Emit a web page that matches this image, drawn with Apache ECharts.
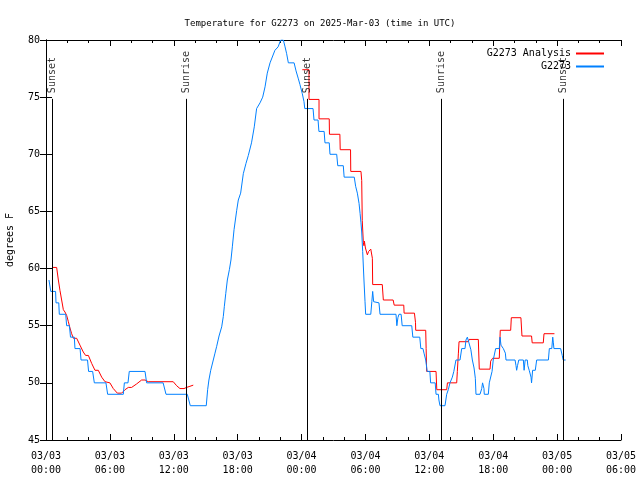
<!DOCTYPE html>
<html><head><meta charset="utf-8">
<script src="https://cdn.jsdelivr.net/npm/echarts@6/dist/echarts.min.js"></script>
<style>html,body{margin:0;padding:0;background:#fff}#c{width:640px;height:480px}</style>
</head><body><div id="c"></div>
<script>
const titleText = 'Temperature for G2273 on 2025-Mar-03 (time in UTC)';
const yAxisName = 'degrees F';
const xTickLabels = ['03/03\n00:00','03/03\n06:00','03/03\n12:00','03/03\n18:00','03/04\n00:00','03/04\n06:00','03/04\n12:00','03/04\n18:00','03/05\n00:00','03/05\n06:00'];
const seriesNames = ['G2273 Analysis', 'G2273'];
// hours since 03/03 00:00 UTC, degrees F
const observed = [[0.28,59],[0.45,58],[0.9,58],[0.94,57],[1.2,57],[1.25,56],[1.85,56],[1.94,55],[2.2,55],[2.3,54],[2.66,54],[2.72,53],[3.2,53],[3.29,52],[3.9,52],[4.0,51],[4.38,51],[4.54,50],[5.63,50],[5.79,49],[7.26,49],[7.36,50],[7.7,50],[7.82,51],[9.3,51],[9.45,50],[11.0,50],[11.27,49],[13.27,49],[13.55,48],[15.05,48],[15.18,49.4],[15.3,50.25],[15.47,51.1],[15.71,52.0],[15.87,52.6],[16.03,53.2],[16.25,54.1],[16.5,54.9],[16.65,55.8],[16.75,56.7],[16.88,57.8],[17.03,59.0],[17.22,59.9],[17.37,60.75],[17.5,61.9],[17.66,63.4],[17.91,65.1],[18.06,66.0],[18.28,66.6],[18.53,68.3],[18.78,69.2],[19.0,69.9],[19.3,71.0],[19.56,72.4],[19.78,74.0],[20.1,74.5],[20.35,75.0],[20.57,75.9],[20.78,77.1],[21.04,78.0],[21.5,79.1],[21.8,79.4],[22.04,80],[22.29,80],[22.45,79.4],[22.6,78.8],[22.76,78],[23.3,78],[23.48,77.3],[23.7,76.6],[23.85,76.1],[24.07,75.3],[24.23,74.6],[24.3,74],[25.08,74],[25.17,73],[25.55,73],[25.63,72],[26.12,72],[26.2,71],[26.6,71],[26.67,70],[27.3,70],[27.4,69],[27.92,69],[28.0,68],[28.95,68],[29.08,67.2],[29.24,66.6],[29.4,65.7],[29.5,64.8],[29.58,64.0],[29.65,63.2],[29.74,61.5],[29.86,59],[29.96,57.1],[30.02,56],[30.5,56],[30.6,57.1],[30.68,58],[30.77,57.1],[31.27,57],[31.37,56],[32.87,56],[32.95,55],[33.05,55.7],[33.15,56],[33.35,56],[33.45,55],[34.35,55],[34.45,54],[35.1,54],[35.2,53],[35.4,53],[35.5,52.6],[35.66,52],[35.75,52],[35.8,51],[36.05,51],[36.12,50],[36.55,50],[36.63,49],[36.85,49],[36.9,48.5],[37.0,48],[37.47,48],[37.63,49],[37.78,49.4],[37.94,50],[38.16,50.5],[38.3,51],[38.5,52],[38.88,52],[39.04,53],[39.35,53],[39.44,53.75],[39.57,54],[39.72,53.5],[39.9,52.9],[40.04,52],[40.2,51.3],[40.32,50.4],[40.38,49],[40.76,49],[40.92,49.5],[41.0,50],[41.13,49.5],[41.16,49],[41.54,49],[41.63,50],[41.8,50],[41.89,51],[42.0,52],[42.23,53],[42.57,53],[42.64,54],[42.73,53.3],[42.95,53],[43.14,52.6],[43.2,52],[44.05,52],[44.14,51.5],[44.2,51.1],[44.28,51.5],[44.4,52],[44.83,52],[44.9,51.1],[45.0,52],[45.2,52],[45.25,51.5],[45.38,51.1],[45.55,50.5],[45.6,50],[45.7,51.1],[45.95,51.1],[46.08,52],[47.18,52],[47.27,53],[47.5,53],[47.59,54],[47.65,53.5],[47.7,53],[48.33,53],[48.48,52.4],[48.57,52],[48.8,52]];
const analysisA = [[0.6,60.1],[1.0,60.1],[1.16,59],[1.31,58.1],[1.47,57.25],[1.63,56.4],[1.78,56.2],[1.94,55.9],[2.1,55.35],[2.25,54.8],[2.41,54.3],[2.57,53.9],[2.88,53.9],[3.19,53.3],[3.5,52.7],[3.72,52.4],[3.98,52.4],[4.29,51.7],[4.6,51.1],[4.91,51.1],[5.23,50.5],[5.54,50.1],[5.7,50],[6.0,50],[6.32,49.5],[6.7,49.1],[7.1,49.1],[7.42,49.4],[7.73,49.6],[8.04,49.6],[8.5,49.9],[8.98,50.25],[9.3,50.25],[9.6,50.1],[11.95,50.1],[12.27,49.75],[12.58,49.5],[12.96,49.5],[13.2,49.6],[13.52,49.7],[13.83,49.8]];
const analysisB = [[24.07,77.4],[24.7,77.4],[24.7,74.8],[25.64,74.8],[25.64,73.1],[26.6,73.1],[26.62,71.75],[27.6,71.75],[27.63,70.4],[28.6,70.4],[28.62,68.5],[29.58,68.5],[29.65,67.7],[29.7,64.2],[29.8,62.3],[29.86,62.0],[29.9,62.4],[30.0,61.8],[30.1,61.9],[30.18,61.2],[30.3,61.5],[30.4,61.6],[30.5,61.7],[30.6,61.6],[30.65,60.9],[30.68,58.6],[31.58,58.6],[31.68,57.25],[32.6,57.25],[32.7,56.8],[33.6,56.8],[33.63,56.1],[34.6,56.1],[34.7,55.3],[34.72,54.6],[35.66,54.6],[35.7,53],[35.75,51],[36.63,51],[36.7,49.4],[37.63,49.4],[37.7,50],[38.57,50],[38.63,51],[38.73,52.6],[38.79,53.6],[39.67,53.6],[39.73,53.8],[40.6,53.8],[40.69,51.2],[41.7,51.2],[41.76,51.9],[41.94,52.15],[42.57,52.15],[42.66,54.6],[43.64,54.6],[43.7,55.7],[44.6,55.7],[44.7,54.1],[45.6,54.1],[45.66,53.5],[46.7,53.5],[46.77,54.3],[47.75,54.3]];
const eventTimes = [0.6, 13.17, 24.54, 37.12, 48.57];
const eventNames = ['Sunset', 'Sunrise', 'Sunset', 'Sunrise', 'Sunset'];

const FONT = 'DejaVu Sans Mono';
const X_MIN = 0, X_MAX = 54, Y_MIN = 45, Y_MAX = 80;
const LINE_TOP = 74.85, LABEL_BASE = 75.35;

const chart = echarts.init(document.getElementById('c'), null, {renderer: 'canvas'});
const axisCommon = {
  axisLine: {show: true, lineStyle: {color: '#000', width: 1}},
  axisTick: {show: true, inside: true, length: 6, lineStyle: {color: '#000'}},
  splitLine: {show: false}
};
chart.setOption({
  animation: false,
  backgroundColor: '#fff',
  title: {text: titleText, left: 'center', top: 14, textStyle: {fontFamily: FONT, fontSize: 9, fontWeight: 'normal', color: '#000'}},
  legend: {
    orient: 'vertical', right: 31, top: 42, align: 'right', itemGap: 0,
    itemWidth: 28, itemHeight: 2, icon: 'rect',
    data: [
      {name: seriesNames[0], itemStyle: {color: '#ff0000'}},
      {name: seriesNames[1], itemStyle: {color: '#0080ff'}}
    ],
    textStyle: {fontFamily: FONT, fontSize: 10, color: '#000', lineHeight: 13}
  },
  grid: {left: 46, right: 19, top: 40, bottom: 40, containLabel: false, outerBoundsMode: 'none'},
  xAxis: [
    Object.assign({}, axisCommon, {
      type: 'value', min: X_MIN, max: X_MAX, interval: 6,
      minorTick: {show: true, splitNumber: 3, length: 3, lineStyle: {color: '#000'}},
      axisLabel: {margin: 9, fontFamily: FONT, fontSize: 10, color: '#000', lineHeight: 14,
        formatter: v => xTickLabels[Math.round(v / 6)]}
    }),
    Object.assign({}, axisCommon, {
      type: 'value', min: X_MIN, max: X_MAX, interval: 6, position: 'top',
      minorTick: {show: true, splitNumber: 3, length: 3, lineStyle: {color: '#000'}},
      axisLabel: {show: false}
    })
  ],
  yAxis: [
    Object.assign({}, axisCommon, {
      type: 'value', min: Y_MIN, max: Y_MAX, interval: 5,
      name: yAxisName, nameLocation: 'middle', nameGap: 31, nameRotate: 90,
      nameTextStyle: {fontFamily: FONT, fontSize: 10, color: '#000'},
      axisLabel: {margin: 6, fontFamily: FONT, fontSize: 10, color: '#000'}
    }),
    Object.assign({}, axisCommon, {
      type: 'value', min: Y_MIN, max: Y_MAX, interval: 5, position: 'right',
      axisLabel: {show: false}
    })
  ],
  series: [
    {
      name: seriesNames[0], type: 'line', data: analysisA, showSymbol: false, symbol: 'none',
      lineStyle: {color: '#ff0000', width: 1}, itemStyle: {color: '#ff0000'}, silent: true, z: 3
    },
    {
      name: seriesNames[0], type: 'line', data: analysisB, showSymbol: false, symbol: 'none',
      lineStyle: {color: '#ff0000', width: 1}, itemStyle: {color: '#ff0000'}, silent: true, z: 3
    },
    {
      name: seriesNames[1], type: 'line', data: observed, showSymbol: false, symbol: 'none',
      lineStyle: {color: '#0080ff', width: 1}, itemStyle: {color: '#0080ff'}, silent: true, z: 4,
      markLine: {
        silent: true, symbol: ['none', 'none'], animation: false,
        lineStyle: {color: '#000', width: 1, type: 'solid'},
        label: {show: false},
        data: eventTimes.map(t => [{coord: [t, Y_MIN]}, {coord: [t, LINE_TOP]}])
      }
    },
    {
      name: 'events', type: 'scatter', symbolSize: 1, itemStyle: {color: 'rgba(0,0,0,0)'},
      silent: true, z: 5,
      data: eventTimes.map((t, i) => ({value: [t, LABEL_BASE], label: {formatter: eventNames[i]}})),
      label: {show: true, position: 'inside', rotate: 90, align: 'left', verticalAlign: 'middle',
        fontFamily: FONT, fontSize: 10, color: '#000'}
    }
  ]
});
</script></body></html>
